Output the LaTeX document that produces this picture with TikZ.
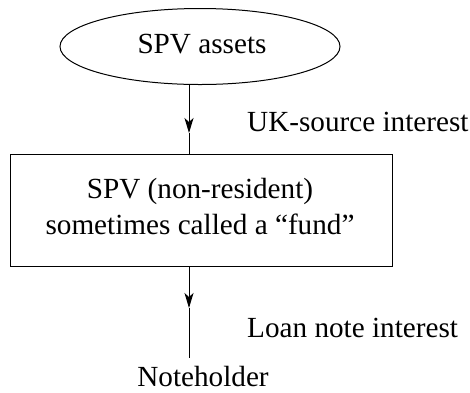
\documentclass[tikz,border=0pt]{standalone}
\usepackage{fontspec}
\setmainfont{Liberation Serif}
\newfontfamily\libser{Liberation Serif}
\usetikzlibrary{shapes.geometric,arrows.meta}
\begin{document}
\begin{tikzpicture}[x=1pt,y=-1pt,
  txt/.style={font=\fontsize{29.2pt}{36pt}\selectfont\libser, inner sep=0pt},
  shapeline/.style={draw, line width=1pt},
  conn/.style={line width=1pt},
  tip/.style={-{Stealth[length=15pt,width=9pt,inset=4pt]}}]
\useasboundingbox (0,0) rectangle (470,392);
% ellipse
\node[shapeline, ellipse, minimum width=280pt, minimum height=76pt, inner sep=0pt] (ell) at (200,46.5) {};
\node[txt, anchor=base] (elltxt) at (202,53) {SPV assets};
% box
\node[shapeline, rectangle, minimum width=382pt, minimum height=112pt, inner sep=0pt] (box) at (201,210) {};
\node[txt, anchor=base] (boxtxt1) at (200,198) {SPV (non-resident)};
\node[txt, anchor=base] (boxtxt2) at (200,234) {sometimes called a “fund”};
% labels
\node[txt, anchor=base west] (lab1) at (247,131) {UK-source interest};
\node[txt, anchor=base west] (lab2) at (247,337) {Loan note interest};
\node[txt, anchor=base] (note) at (203,386.5) {Noteholder};
% connectors
\coordinate (a1) at (189,84.6);
\coordinate (m1) at (189,133);
\coordinate (b1) at (189,154);
\coordinate (a2) at (189,266);
\coordinate (m2) at (189,308);
\coordinate (b2) at (189,358);
\draw[conn, tip] (a1) -- (m1);
\draw[conn] (m1) -- (b1);
\draw[conn, tip] (a2) -- (m2);
\draw[conn] (m2) -- (b2);
\end{tikzpicture}
\end{document}
